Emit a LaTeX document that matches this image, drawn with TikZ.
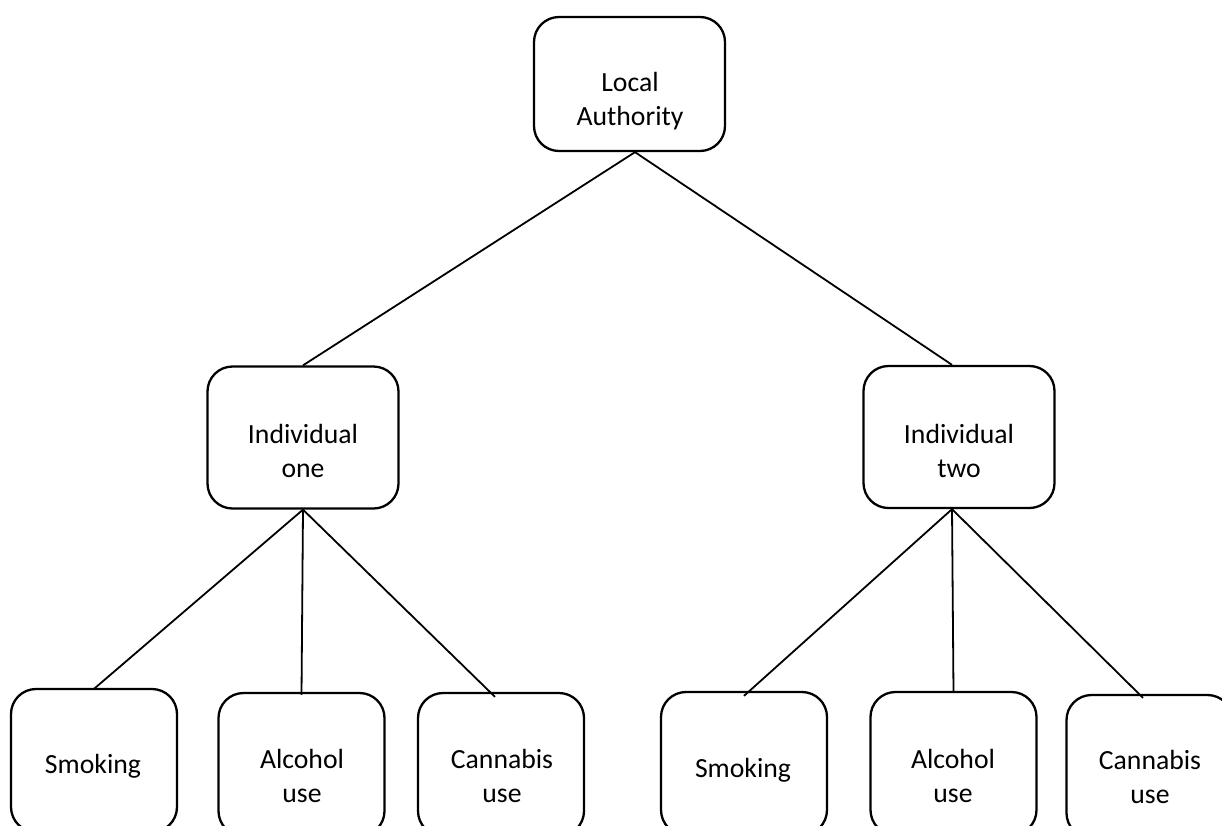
\documentclass[tikz,border=0pt]{standalone}
\usepackage{fontspec}
\setmainfont{Carlito}
\begin{document}
\begin{tikzpicture}[x=1pt,y=-1pt,
  box/.style={draw=black, line width=2.3pt, rounded corners=25pt, inner sep=0pt, fill=none},
  topbox/.style={box, minimum width=191pt, minimum height=134pt},
  midbox/.style={box, minimum width=191pt, minimum height=142pt},
  leafbox/.style={box, minimum width=166pt, minimum height=143pt},
  lbl/.style={align=center, inner sep=0pt, font=\fontsize{27.7}{34}\selectfont},
  link/.style={draw=black, line width=1.8pt}]
\useasboundingbox (0,0) rectangle (1222,825);
\clip (0,0) rectangle (1222,825);
\fill[white] (0,0) rectangle (1222,825);

% boxes
\node[topbox] (top) at (629.5,84) {};
\node[midbox] (ione) at (303,437.5) {};
\node[midbox] (itwo) at (959,437) {};
\node[leafbox] (sone) at (94,760.5) {};
\node[leafbox] (aone) at (301.5,764.5) {};
\node[leafbox] (cone) at (501,764.5) {};
\node[leafbox] (stwo) at (744,763.5) {};
\node[leafbox] (atwo) at (953.5,763.5) {};
\node[leafbox] (ctwo) at (1149.5,766.5) {};

% texts
\node[lbl] (ttop) at (630,101) {Local\\Authority};
\node[lbl] (tione) at (303,451) {Individual\\one};
\node[lbl] (titwo) at (959,451) {Individual\\two};
\node[lbl] (tsone) at (93,766) {Smoking};
\node[lbl] (taone) at (302,775.5) {Alcohol\\use};
\node[lbl] (tcone) at (502,775.5) {Cannabis\\use};
\node[lbl] (tstwo) at (743,770) {Smoking};
\node[lbl] (tatwo) at (953,775.5) {Alcohol\\use};
\node[lbl] (tctwo) at (1150,777) {Cannabis\\use};

% connectors
\draw[link] ([xshift=5.5pt]top.south) -- (ione.north);
\draw[link] ([xshift=5.5pt]top.south) -- ([xshift=-7pt]itwo.north);
\draw[link] (ione.south) -- ([yshift=-1pt]sone.north);
\draw[link] (ione.south) -- ([yshift=-3pt]aone.north);
\draw[link] (ione.south) -- ([xshift=-6pt,yshift=-5pt]cone.north);
\draw[link] ([xshift=-7pt]itwo.south) -- ([yshift=-5pt]stwo.north);
\draw[link] ([xshift=-7pt]itwo.south) -- ([yshift=-2pt]atwo.north);
\draw[link] ([xshift=-7pt]itwo.south) -- ([xshift=-6.5pt,yshift=-4pt]ctwo.north);
\end{tikzpicture}
\end{document}
